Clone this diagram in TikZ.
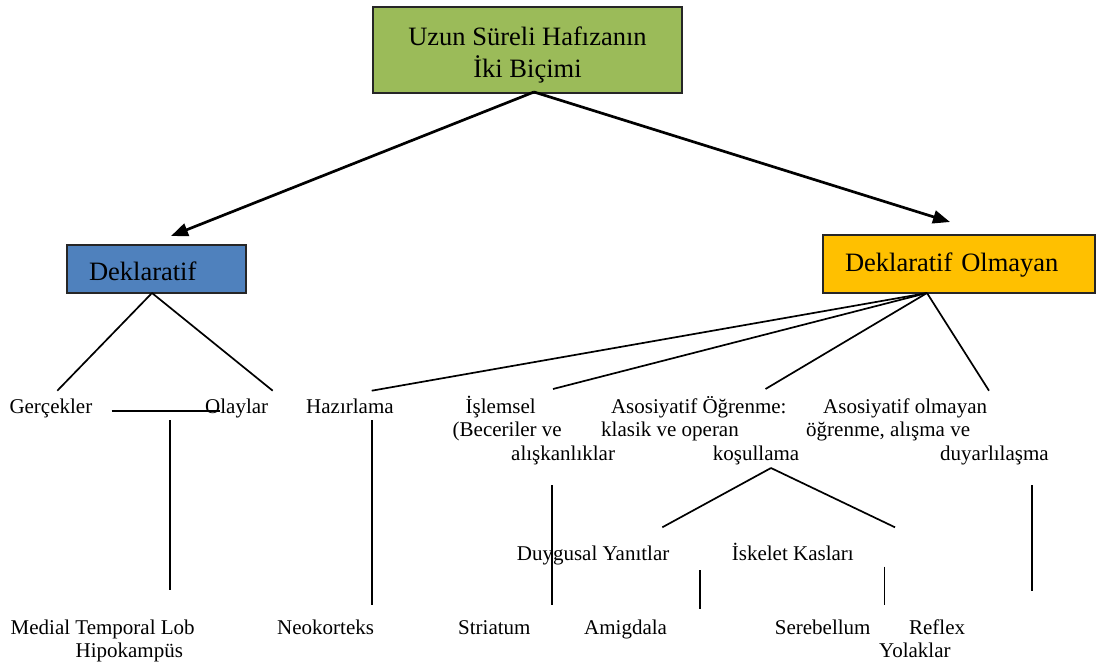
\documentclass[tikz,border=0pt]{standalone}
\usepackage{fontspec}
\setmainfont{Liberation Serif}
\usetikzlibrary{arrows.meta}
\definecolor{boxgreen}{HTML}{9BBB59}
\definecolor{boxblue}{HTML}{4F81BD}
\definecolor{boxorange}{HTML}{FFC000}
\newcommand{\firstln}{\rule{0pt}{20pt}}
\tikzset{
  boxbase/.style={draw=black!85, line width=1.3pt, inner ysep=0pt,
    font=\fontsize{26.5}{32}\selectfont},
  sidebox/.style={boxbase, inner xsep=22pt, align=left},
  lbl/.style={inner sep=0pt, anchor=base west, font=\fontsize{21}{23.5}\selectfont},
  multilbl/.style={inner sep=0pt, anchor=north west, align=left, font=\fontsize{21}{23.5}\selectfont},
  thinline/.style={line width=1.7pt, black},
  bigarrow/.style={line width=2.7pt, black, -{Triangle[length=17pt,width=13pt]}},
}
\begin{document}
\begin{tikzpicture}[x=1pt,y=-1pt]
\useasboundingbox (0,0) rectangle (1096,665);

% boxes
\node[boxbase, fill=boxgreen, inner xsep=0pt, minimum width=309pt, minimum height=86pt, align=center]
  (top) at (527.5,50) {\rule{0pt}{29pt}Uzun Süreli Hafızanın\\İki Biçimi\rule[-7pt]{0pt}{7pt}};
\node[sidebox, fill=boxblue, text width=135pt, minimum width=179pt, minimum height=48pt,
  text height=26pt, text depth=4pt] (dek) at (156.5,269) {Deklaratif};
\node[sidebox, fill=boxorange, text width=228pt, minimum width=272pt, minimum height=58pt,
  text height=22pt, text depth=8pt] (non) at (959,264) {Deklaratif Olmayan};

% labels
\node[lbl] (gerc) at (9.3,413) {Gerçekler};
\node[lbl] (olay) at (205,413) {Olaylar};
\node[lbl] (hazir) at (306,413) {Hazırlama};
\node[multilbl] (islem) at (452.5,393) {\firstln\hspace*{13pt}İşlemsel\\(Beceriler ve\\\hspace*{58.5pt}alışkanlıklar};
\node[multilbl] (asos) at (601,393) {\firstln\hspace*{9.8pt}Asosiyatif Öğrenme:\\klasik ve operan\\\hspace*{111.7pt}koşullama};
\node[multilbl] (nonasos) at (806,393) {\firstln\hspace*{17pt}Asosiyatif olmayan\\öğrenme, alışma ve\\\hspace*{134pt}duyarlılaşma};
\node[lbl] (duyg) at (516.7,560) {Duygusal Yanıtlar};
\node[lbl] (iskel) at (731.7,560) {İskelet Kasları};
\node[multilbl] (medial) at (10.5,614) {\firstln Medial Temporal Lob\\\hspace*{64.9pt}Hipokampüs};
\node[lbl] (neo) at (277,634) {Neokorteks};
\node[lbl] (stri) at (458,634) {Striatum};
\node[lbl] (amig) at (584,634) {Amigdala};
\node[lbl] (sereb) at (774.7,634) {Serebellum};
\node[multilbl] (reflex) at (879,614) {\firstln\hspace*{29.9pt}Reflex\\Yolaklar};

% junction coordinates
\coordinate (topj) at (534,92);
\coordinate (dektip) at (171,236);
\coordinate (nontip) at (950,222);
\coordinate (dekj) at (152,293);
\coordinate (nonj) at (927,293);
\coordinate (gercE) at (57.3,390.7);
\coordinate (olayE) at (272.7,390.7);
\coordinate (gpL) at (111.7,410.7);
\coordinate (gpR) at (220,410.7);
\coordinate (medT) at (170,420);
\coordinate (medB) at (170,590);
\coordinate (hazE) at (371.7,390.7);
\coordinate (islE) at (553,389);
\coordinate (asosE) at (765.5,389);
\coordinate (nasE) at (989,390.7);
\coordinate (neoT) at (372.3,420);
\coordinate (neoB) at (372.3,605);
\coordinate (striT) at (551.7,485);
\coordinate (striB) at (551.7,605);
\coordinate (kosj) at (771,468);
\coordinate (duygE) at (662.3,527.3);
\coordinate (iskE) at (895,527.3);
\coordinate (amigT) at (700,570);
\coordinate (amigB) at (700,609);
\coordinate (serT) at (884.5,566.7);
\coordinate (serB) at (884.5,605);
\coordinate (refT) at (1032,485);
\coordinate (refB) at (1032,590.7);

% connectors
\draw[bigarrow] (topj) -- (dektip);
\draw[bigarrow] (topj) -- (nontip);
\draw[thinline] (dekj) -- (gercE);
\draw[thinline] (dekj) -- (olayE);
\draw[thinline] (gpL) -- (gpR);
\draw[thinline] (medT) -- (medB);
\draw[thinline] (nonj) -- (hazE);
\draw[thinline] (nonj) -- (islE);
\draw[thinline] (nonj) -- (asosE);
\draw[thinline] (nonj) -- (nasE);
\draw[thinline] (neoT) -- (neoB);
\draw[thinline] (striT) -- (striB);
\draw[thinline] (kosj) -- (duygE);
\draw[thinline] (kosj) -- (iskE);
\draw[thinline] (amigT) -- (amigB);
\draw[thinline] (serT) -- (serB);
\draw[thinline] (refT) -- (refB);
\end{tikzpicture}
\end{document}
